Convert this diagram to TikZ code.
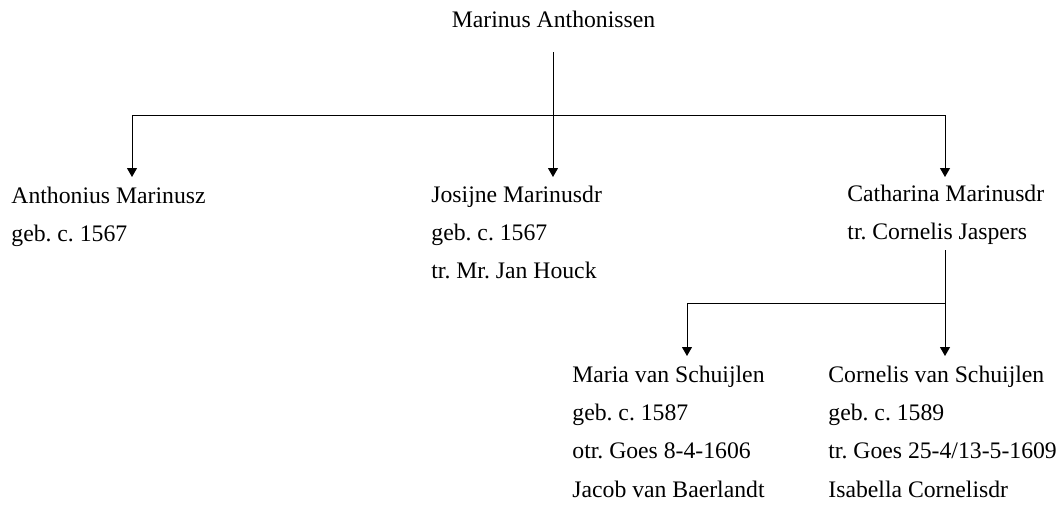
\documentclass[tikz,border=0pt]{standalone}
\usepackage{fontspec}
\setmainfont{Liberation Serif}
\usetikzlibrary{arrows.meta}
\frenchspacing

\begin{document}
\begin{tikzpicture}[x=0.5pt,y=-0.5pt,
        person/.style={anchor=north west, inner sep=0pt, align=left, font=\fontsize{11.85}{19.1}\selectfont},
        arr/.style={-{Triangle[width=5pt,length=4.5pt]}, line width=0.5pt},
        line/.style={line width=0.5pt}]
        \useasboundingbox (0,0) rectangle (1060,504);
        % first baseline sits 0.7 of 19.1pt (26.7 units) under the node top
        \def\strutup{26.7}

        % Root - Marinus Anthonissen
        \node[person, anchor=base] (marinus) at (553.5,27) {Marinus Anthonissen};

        % Children of Marinus
        \node[person] (anthonius) at (11,203-\strutup) {\strut Anthonius Marinusz\\geb. c. 1567};
        \node[person] (josijne) at (431,202-\strutup) {\strut Josijne Marinusdr\\geb. c. 1567\\tr. Mr. Jan Houck};
        \node[person] (catharina) at (847,201-\strutup) {\strut Catharina Marinusdr\\tr. Cornelis Jaspers};

        % Children of Catharina
        \node[person] (maria) at (572,382-\strutup) {\strut Maria van Schuijlen\\geb. c. 1587\\otr. Goes 8-4-1606\\Jacob van Baerlandt};
        \node[person] (cornelis) at (828,382-\strutup) {\strut Cornelis van Schuijlen\\geb. c. 1589\\tr. Goes 25-4/13-5-1609\\Isabella Cornelisdr};

        % Bus under Marinus
        \coordinate (rootfoot) at (553,52);
        \coordinate (busA) at (132,115);
        \coordinate (busJ) at (553,115);
        \coordinate (busC) at (945,115);
        \coordinate (tipA) at (132,177);
        \coordinate (tipJ) at (553,177);
        \coordinate (tipC) at (945,177);
        \draw[line] (rootfoot) -- (busJ);
        \draw[line] (busA) -- (busC);
        \foreach \k in {A,J,C}
            \draw[arr] (bus\k) -- (tip\k);

        % Bus under Catharina
        \coordinate (cathfoot) at (945,250);
        \coordinate (busM) at (687,303);
        \coordinate (busK) at (945,303);
        \coordinate (tipM) at (687,356);
        \coordinate (tipK) at (945,356);
        \draw[line] (cathfoot) -- (busK);
        \draw[line] (busM) -- (busK);
        \foreach \k in {M,K}
            \draw[arr] (bus\k) -- (tip\k);
    \end{tikzpicture}
\end{document}
